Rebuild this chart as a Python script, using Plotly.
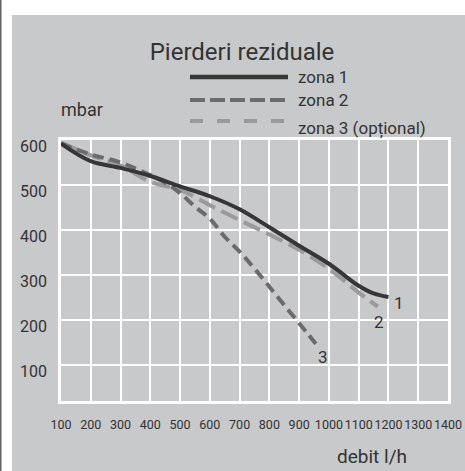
import plotly.graph_objects as go

# ---- data ----
flow_z1 = [100, 200, 300, 400, 500, 600, 700, 800, 900, 1000, 1100, 1150, 1200]
p_z1 = [592, 553, 538, 520, 497, 475, 446, 406, 365, 325, 276, 259, 251]

flow_z2 = [100, 200, 300, 400, 450, 500, 550, 600, 650, 700, 750, 800, 850, 900, 956]
p_z2 = [592, 568, 550, 522, 505, 482, 452, 425, 385, 352, 314, 274, 233, 193, 147]

flow_z3 = [100, 200, 300, 400, 500, 600, 700, 800, 900, 1000, 1100, 1164]
p_z3 = [594, 566, 543, 507, 489, 455, 422, 390, 356, 314, 261, 230]

x_ticks = list(range(100, 1401, 100))
y_ticks = [100, 200, 300, 400, 500, 600]

series_names = ["zona 1", "zona 2", "zona 3 (opțional)"]
curve_labels = ["1", "2", "3"]
curve_label_pos = [(1234, 238), (1167, 196), (979, 118)]

# ---- styling ----
W, H = 465, 471
ML, MR, MT, MB = 61, 17, 140, 70
PW, PH = W - ML - MR, H - MT - MB
BG = "#c8c9cb"
TXT = "#333333"
C1, C2, C3 = "#363636", "#6b6b6b", "#9a9a9a"
FONT = "Roboto"


def px(x):
    return (x - ML) / PW


def py(y):
    return 1 - (y - MT) / PH


fig = go.Figure()
fig.add_trace(go.Scatter(x=flow_z3, y=p_z3, mode="lines", name=series_names[2],
                         line=dict(color=C3, width=4, dash="18px,7px", shape="spline"),
                         showlegend=False))
fig.add_trace(go.Scatter(x=flow_z2, y=p_z2, mode="lines", name=series_names[1],
                         line=dict(color=C2, width=4, dash="11px,6px", shape="spline"),
                         showlegend=False))
fig.add_trace(go.Scatter(x=flow_z1, y=p_z1, mode="lines", name=series_names[0],
                         line=dict(color=C1, width=4, shape="spline"),
                         showlegend=False))

shapes = [
    # white strips and dark left edge
    dict(type="rect", xref="paper", yref="paper", x0=px(-5), x1=px(12), y0=py(-5), y1=py(H + 5),
         fillcolor="white", line_width=0, layer="below"),
    dict(type="rect", xref="paper", yref="paper", x0=px(-5), x1=px(W + 5), y0=py(15), y1=py(-5),
         fillcolor="white", line_width=0, layer="below"),
    dict(type="rect", xref="paper", yref="paper", x0=px(0), x1=px(1.5), y0=py(-5), y1=py(H + 5),
         fillcolor="#606060", line_width=0, layer="below"),
]
# custom legend lines
leg_y = [77, 100, 121]
leg_style = [dict(color=C1, width=4.5, dash="solid"),
             dict(color=C2, width=4, dash="15px,5px"),
             dict(color=C3, width=4, dash="13px,14px")]
for yy, st in zip(leg_y, leg_style):
    shapes.append(dict(type="line", xref="paper", yref="paper", x0=px(190), x1=px(288),
                       y0=py(yy), y1=py(yy), line=st))

annotations = []
leg_text_y = [77, 100, 128]
for name, yy in zip(series_names, leg_text_y):
    annotations.append(dict(text=name, xref="paper", yref="paper", x=px(296), y=py(yy),
                            xanchor="left", yanchor="middle", showarrow=False,
                            font=dict(family=FONT, size=17, color=TXT)))
annotations.append(dict(text="mbar", xref="paper", yref="paper", x=px(59), y=py(110),
                        xanchor="left", yanchor="middle", showarrow=False,
                        font=dict(family=FONT, size=18, color=TXT)))
annotations.append(dict(text="debit l/h", xref="paper", yref="paper", x=px(372), y=py(456),
                        xanchor="center", yanchor="middle", showarrow=False,
                        font=dict(family=FONT, size=19, color=TXT)))
for lab, (lx, ly) in zip(curve_labels, curve_label_pos):
    annotations.append(dict(text=lab, x=lx, y=ly, xref="x", yref="y", showarrow=False,
                            xanchor="center", yanchor="middle",
                            font=dict(family=FONT, size=17, color=TXT)))

fig.update_layout(
    width=W, height=H,
    margin=dict(l=ML, r=MR, t=MT, b=MB, pad=0, autoexpand=False),
    paper_bgcolor=BG, plot_bgcolor=BG,
    title=dict(text="Pierderi reziduale", x=242 / W, xref="container", xanchor="center",
               y=1 - 52 / H, yref="container", yanchor="middle",
               font=dict(family=FONT, size=24, color=TXT)),
    shapes=shapes, annotations=annotations,
    showlegend=False,
)
fig.update_xaxes(range=[100, 1400], tickvals=x_ticks, ticktext=[str(v) for v in x_ticks],
                 showgrid=True, gridcolor="white", gridwidth=1.5,
                 showline=True, linecolor="white", linewidth=2.5, mirror=True,
                 zeroline=False, ticks="", ticklabelstandoff=10, tickangle=0, automargin=False,
                 tickfont=dict(family=FONT, size=12.5, color=TXT), fixedrange=True)
fig.update_yaxes(range=[20, 600], tickvals=y_ticks, ticktext=[str(v) for v in y_ticks],
                 showgrid=True, gridcolor="white", gridwidth=1.5,
                 showline=True, linecolor="white", linewidth=2.5, mirror=True,
                 zeroline=False, ticks="", ticklabelstandoff=8, ticklabelshift=6, automargin=False,
                 tickfont=dict(family=FONT, size=16, color=TXT), fixedrange=True)

fig.write_html("out.html", config={"displayModeBar": False},
               post_script="document.body.style.margin='0';")
